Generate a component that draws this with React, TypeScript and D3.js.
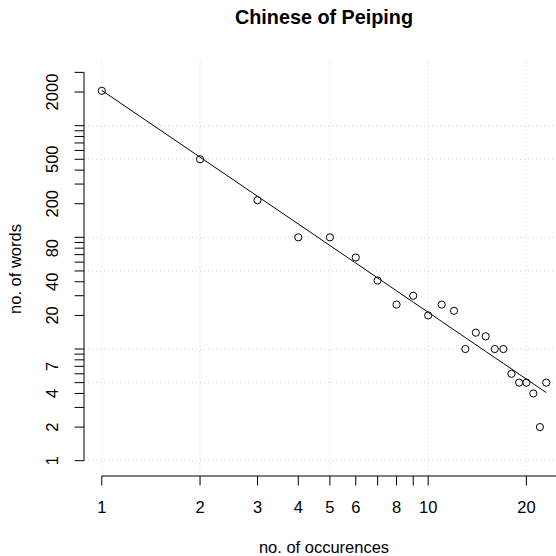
import React from "react";
import * as d3 from "d3";

// Zipf data: number of words occurring n times
const occurrences = [1, 2, 3, 4, 5, 6, 7, 8, 9, 10, 11, 12, 13, 14, 15, 16, 17, 18, 19, 20, 21, 22, 23];
const words = [2050, 500, 215, 100, 100, 66, 41, 25, 30, 20, 25, 22, 10, 14, 13, 10, 10, 6, 5, 5, 4, 2, 5];

const xTicks = [1, 2, 3, 4, 5, 6, 7, 8, 9, 10, 20];
const xLabels = [1, 2, 3, 4, 5, 6, 8, 10, 20];
const yTicks = [1, 2, 3, 4, 5, 6, 7, 8, 9, 10, 20, 30, 40, 50, 60, 70, 80, 90, 100, 200, 300, 400, 500, 600, 700, 800, 900, 1000, 2000, 3000];
const yLabels = [1, 2, 4, 7, 20, 40, 80, 200, 500, 2000];
const xGrid = [1, 2, 5, 10, 20];
const yGrid = [1, 5, 10, 50, 100, 500, 1000];

const W = 556;
const H = 556;
const plot = { left: 84, right: 564, top: 62, bottom: 476 };
const font = "'Liberation Sans', Arial, Helvetica, sans-serif";

export default function App() {
    const x = d3
        .scaleLog()
        .domain([Math.pow(10, -0.0545), Math.pow(10, 1.4162)])
        .range([plot.left, plot.right]);
    const y = d3
        .scaleLog()
        .domain([Math.pow(10, -0.137), Math.pow(10, 3.57)])
        .range([plot.bottom, plot.top]);

    // least squares fit on log10 scale
    const lx = occurrences.map(Math.log10);
    const ly = words.map(Math.log10);
    const mx = d3.mean(lx)!;
    const my = d3.mean(ly)!;
    const slope =
        d3.sum(lx, (v, i) => (v - mx) * (ly[i] - my)) /
        d3.sum(lx, (v) => (v - mx) * (v - mx));
    const intercept = my - slope * mx;
    const fitted = occurrences.map((o) => Math.pow(10, intercept + slope * Math.log10(o)));

    const line = d3
        .line<number>()
        .x((d, i) => x(occurrences[i]))
        .y((d) => y(d));

    const tick = 9.5;
    const yAxisX = plot.left;
    const xAxisY = plot.bottom;
    const fs = 16.5;

    return (
        <svg
            width={W}
            height={H}
            style={{ position: "absolute", left: 0, top: 0, background: "white" }}
            fontFamily={font}
        >
            <rect width={W} height={H} fill="white" />
            <g stroke="#d3d3d3" strokeDasharray="1,3" strokeWidth={1}>
                {xGrid.map((v) => (
                    <line key={"gx" + v} x1={x(v)} x2={x(v)} y1={plot.top} y2={plot.bottom} />
                ))}
                {yGrid.map((v) => (
                    <line key={"gy" + v} x1={plot.left} x2={plot.right} y1={y(v)} y2={y(v)} />
                ))}
            </g>

            <path d={line(fitted) || ""} fill="none" stroke="black" strokeWidth={1} />

            <g fill="none" stroke="black" strokeWidth={1}>
                {words.map((w, i) => (
                    <circle key={i} cx={x(occurrences[i])} cy={y(w)} r={3.6} />
                ))}
            </g>

            {/* x axis */}
            <g stroke="black" strokeWidth={1}>
                <line x1={x(1)} x2={plot.right} y1={xAxisY} y2={xAxisY} />
                {xTicks.map((v) => (
                    <line key={"xt" + v} x1={x(v)} x2={x(v)} y1={xAxisY} y2={xAxisY + tick} />
                ))}
            </g>
            {xLabels.map((v) => (
                <text key={"xl" + v} x={x(v)} y={513.3} textAnchor="middle" fontSize={fs}>
                    {v}
                </text>
            ))}

            {/* y axis */}
            <g stroke="black" strokeWidth={1}>
                <line x1={yAxisX} x2={yAxisX} y1={y(1)} y2={y(3000)} />
                {yTicks.map((v) => (
                    <line key={"yt" + v} x1={yAxisX - tick} x2={yAxisX} y1={y(v)} y2={y(v)} />
                ))}
            </g>
            {yLabels.map((v) => (
                <text
                    key={"yl" + v}
                    transform={`translate(57.5,${y(v)}) rotate(-90)`}
                    textAnchor="middle"
                    fontSize={fs}
                >
                    {v}
                </text>
            ))}

            <text x={324} y={23.5} textAnchor="middle" fontSize={19.8} fontWeight="bold">
                Chinese of Peiping
            </text>
            <text x={324} y={553.3} textAnchor="middle" fontSize={fs}>
                no. of occurences
            </text>
            <text transform={`translate(20.7,${(plot.top + plot.bottom) / 2}) rotate(-90)`} textAnchor="middle" fontSize={fs}>
                no. of words
            </text>
        </svg>
    );
}
